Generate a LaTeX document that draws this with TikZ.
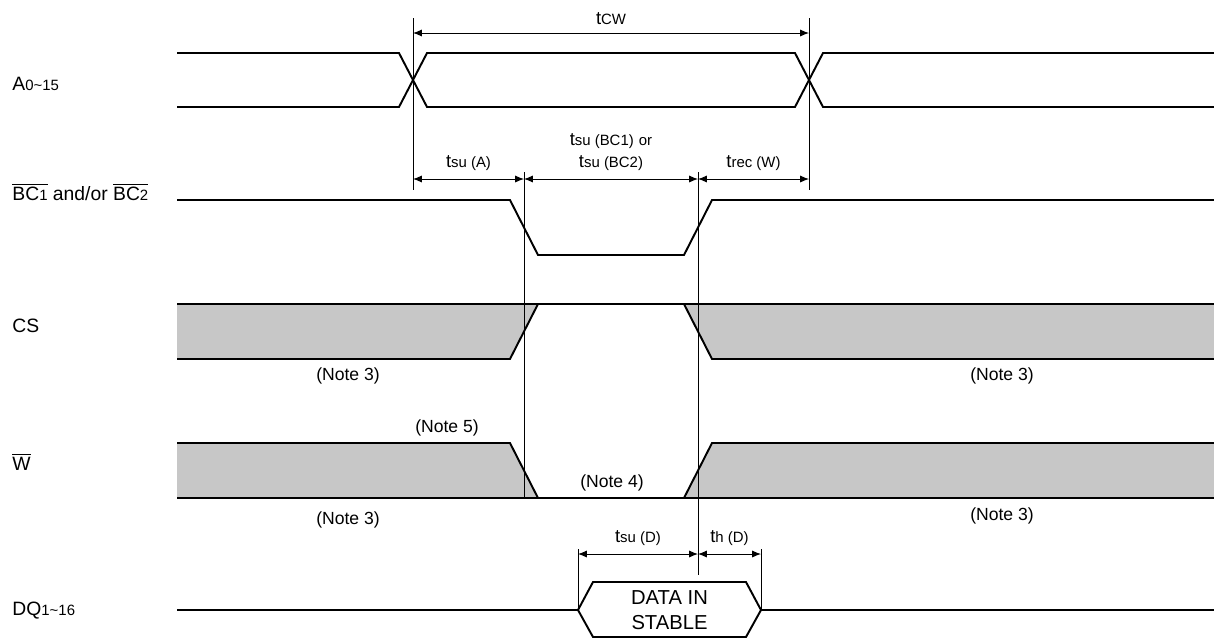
\documentclass[tikz,border=0pt]{standalone}
\usepackage{fontspec}
\setmainfont{Liberation Sans}
\usetikzlibrary{arrows.meta}
\usetikzlibrary{calc}
\usetikzlibrary{math}

\newcommand{\subtxt}[1]{{\fontsize{8.5}{9}\selectfont #1}}

\begin{document}
\begin{tikzpicture}[x=0.02cm,y=-0.02cm,line width=0.5pt,
    font=\fontsize{10}{12.5}\selectfont,
    wave/.style={line width=1.1pt},
    dontcare/.style={fill=black!22},
    dim/.style={{Latex[length=5pt,width=4pt]}-{Latex[length=5pt,width=4pt]}},
    signame/.style={anchor=base west, inner sep=0pt, font=\fontsize{11}{13}\selectfont},
    timelabel/.style={midway, above=1pt, font=\fontsize{10.5}{12.5}\selectfont},
    note/.style={inner sep=0pt}]

  \tikzmath{
    \xs = 177;  % start of the waveforms
    \xe = 1214; % end of the waveforms
    \tr = 14;   % half width of an edge
    \aL = 413;  % address valid
    \aR = 809;  % address change
    \bL = 524;  % BC, CS, W active
    \bR = 698;  % BC, CS, W inactive
    \dL = 578;  % data in from
    \dR = 761;  % data in to
    \hx = 15;   % slant of the data window
  }

  \useasboundingbox (0,0) rectangle (1214,637);

  % Signal names
  \node[signame] (nameA)  at (12,90)  {A\subtxt{0\textasciitilde15}};
  \node[signame] (nameBC) at (12,200)
    {$\overline{\mbox{BC\subtxt{1}}}$ and/or $\overline{\mbox{BC\subtxt{2}}}$};
  \node[signame] (nameCS) at (12,332) {CS};
  \node[signame] (nameW)  at (12,470) {$\overline{\mbox{W}}$};
  \node[signame] (nameDQ) at (12,615) {DQ\subtxt{1\textasciitilde16}};

  % A0~15
  \draw[wave] (\xs,53) -- (\aL-\tr,53) -- (\aL+\tr,107) -- (\aR-\tr,107) -- (\aR+\tr,53) -- (\xe,53);
  \draw[wave] (\xs,107) -- (\aL-\tr,107) -- (\aL+\tr,53) -- (\aR-\tr,53) -- (\aR+\tr,107) -- (\xe,107);

  % BC1 and/or BC2
  \draw[wave] (\xs,200) -- (\bL-\tr,200) -- (\bL+\tr,255) -- (\bR-\tr,255) -- (\bR+\tr,200) -- (\xe,200);

  % CS
  \fill[dontcare] (\xs,304) -- (\bL+\tr,304) -- (\bL-\tr,359) -- (\xs,359) -- cycle;
  \fill[dontcare] (\bR-\tr,304) -- (\xe,304) -- (\xe,359) -- (\bR+\tr,359) -- cycle;
  \draw[wave] (\xs,304) -- (\xe,304);
  \draw[wave] (\xs,359) -- (\bL-\tr,359) -- (\bL+\tr,304);
  \draw[wave] (\bR-\tr,304) -- (\bR+\tr,359) -- (\xe,359);

  % W
  \fill[dontcare] (\xs,443) -- (\bL-\tr,443) -- (\bL+\tr,498) -- (\xs,498) -- cycle;
  \fill[dontcare] (\bR+\tr,443) -- (\xe,443) -- (\xe,498) -- (\bR-\tr,498) -- cycle;
  \draw[wave] (\xs,498) -- (\xe,498);
  \draw[wave] (\xs,443) -- (\bL-\tr,443) -- (\bL+\tr,498);
  \draw[wave] (\bR-\tr,498) -- (\bR+\tr,443) -- (\xe,443);

  % DQ1~16 with the data window
  \draw[wave] (\xs,610) -- (\dL,610) -- (\dL+\hx,582) -- (\dR-\hx,582) -- (\dR,610) -- (\xe,610);
  \draw[wave] (\dL,610) -- (\dL+\hx,637) -- (\dR-\hx,637) -- (\dR,610);
  \node[align=center, inner sep=0pt, font=\fontsize{11.5}{14}\selectfont] (din)
    at ($(\dL,610)!0.5!(\dR,610)$) {DATA IN\\STABLE};

  % Reference lines
  \coordinate (aL) at (\aL,18);
  \coordinate (aR) at (\aR,18);
  \coordinate (bL) at (\bL,172);
  \coordinate (bR) at (\bR,172);
  \coordinate (dL) at (\dL,549);
  \coordinate (dR) at (\dR,549);
  \draw (aL) -- (\aL,190);
  \draw (aR) -- (\aR,190);
  \draw (bL) -- (\bL,497);
  \draw (bR) -- (\bR,575);
  \draw (dL) -- (\dL,610);
  \draw (dR) -- (\dR,610);

  % Timing arrows
  \coordinate (rowcw) at (0,33);
  \coordinate (rowbc) at (0,179);
  \coordinate (rowdq) at (0,554);

  \draw[dim] (aL |- rowcw) -- (aR |- rowcw) node[timelabel] (tcw) {t\subtxt{CW}};
  \draw[dim] (aL |- rowbc) -- (bL |- rowbc) node[timelabel] (tsua) {t\subtxt{su (A)}};
  \draw[dim] (bL |- rowbc) -- (bR |- rowbc)
    node[timelabel, align=center] (tsubc) {t\subtxt{su (BC1)} \subtxt{or}\\t\subtxt{su (BC2)}};
  \draw[dim] (bR |- rowbc) -- (aR |- rowbc) node[timelabel] (trecw) {t\subtxt{rec (W)}};
  \draw[dim] (dL |- rowdq) -- (bR |- rowdq) node[timelabel] (tsud) {t\subtxt{su (D)}};
  \draw[dim] (bR |- rowdq) -- (dR |- rowdq) node[timelabel] (thd) {t\subtxt{h (D)}};

  % Notes
  \node[note] (csnoteL) at (348,376) {(Note 3)};
  \node[note] (csnoteR) at (1002,376) {(Note 3)};
  \node[note] (wnote5)  at (447,428) {(Note 5)};
  \node[note] (wnote4)  at (612,483) {(Note 4)};
  \node[note] (wnoteL)  at (348,520) {(Note 3)};
  \node[note] (wnoteR)  at (1002,516) {(Note 3)};

\end{tikzpicture}
\end{document}
